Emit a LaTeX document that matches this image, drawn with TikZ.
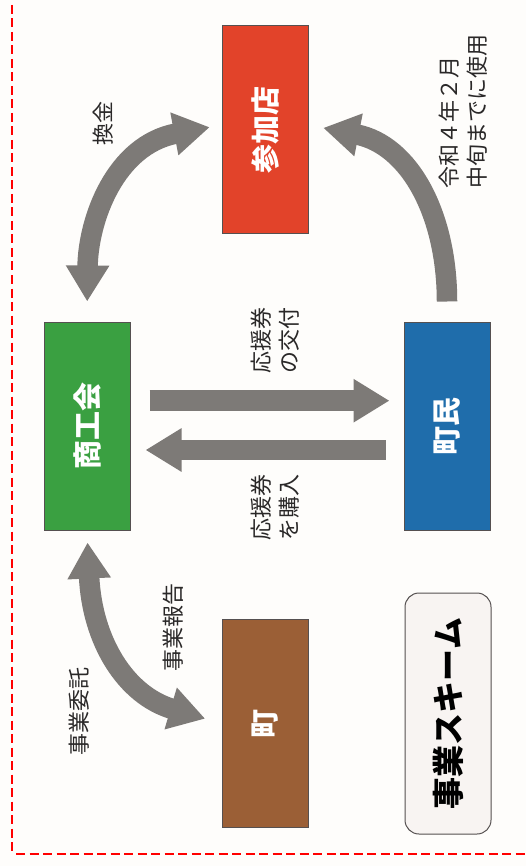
\documentclass[tikz,border=0pt]{standalone}
\usepackage{fontspec}
\setmainfont{Noto Sans CJK JP}
\usetikzlibrary{arrows.meta}
\definecolor{bgc}{HTML}{FEFDFB}
\definecolor{redc}{HTML}{E2432A}
\definecolor{greenc}{HTML}{3AA041}
\definecolor{bluec}{HTML}{1F6DAB}
\definecolor{brownc}{HTML}{9B5F36}
\definecolor{grayc}{HTML}{7D7A77}
\definecolor{edgec}{HTML}{555050}
\definecolor{textc}{HTML}{2A2828}
\definecolor{titlec}{HTML}{F8F4F2}
\tikzset{
  actor/.style={draw=edgec,line width=1pt,minimum width=86pt,minimum height=208pt,inner sep=0pt,text=white,font=\bfseries\fontsize{29}{29}\selectfont},
  lab/.style={rotate=90,inner sep=0pt,text=textc,align=left,font=\fontsize{22}{28}\selectfont},
  flow/.style={draw=grayc,line width=20.5pt,line cap=butt},
  onehead/.style={flow,-{Triangle[length=36pt,width=41pt]}},
  twohead/.style={flow,{Triangle[length=36pt,width=41pt]}-{Triangle[length=36pt,width=41pt]}},
  frame/.style={draw=red,line width=2pt,dash pattern=on 9pt off 4.5pt}
}
\begin{document}
\begin{tikzpicture}[x=1pt,y=-1pt]
\fill[bgc] (0,0) rectangle (526,866);
\useasboundingbox (0,0) rectangle (526,866);
% frame
\coordinate (ftop) at (11.5,5);
\coordinate (fcorner) at (11.5,853);
\coordinate (fstart) at (16,854);
\coordinate (fend) at (526,854);
\draw[frame] (ftop) -- (fcorner);
\draw[frame] (fstart) -- (fend);
% boxes
\node[actor,fill=redc] (san) at (265,130) {\rotatebox{90}{参加店}};
\node[actor,fill=greenc] (sho) at (87,426) {\rotatebox{90}{商工会}};
\node[actor,fill=bluec] (cho) at (447,426) {\rotatebox{90}{町民}};
\node[actor,fill=brownc] (machi) at (265,723.5) {\rotatebox{90}{町}};
\node[draw=edgec,line width=1pt,fill=titlec,rounded corners=14pt,minimum width=86pt,minimum height=241pt,inner sep=0pt,text=black,font=\bfseries\fontsize{32}{32}\selectfont] (title) at (448,713.5) {\rotatebox{90}{事業スキーム}};
% connectors
\draw[onehead,shorten <=19pt,shorten >=14pt] ([yshift=25.3pt]sho.east) -- ([yshift=25.3pt]cho.west);
\draw[onehead,shorten <=18pt,shorten >=15pt] ([yshift=-24pt]cho.west) -- ([yshift=-24pt]sho.east);
\draw[twohead,shorten <=20pt,shorten >=12pt] (sho.north) .. controls (88,220) and (115,145) .. ([yshift=5pt]san.west);
\draw[onehead,shorten <=20pt,shorten >=15pt] (cho.north) .. controls (447,215) and (410,145) .. ([yshift=5pt]san.east);
\draw[twohead,shorten <=12pt,shorten >=17pt] (sho.south) .. controls (92,640) and (125,695) .. (machi.west);
% labels
\node[lab] (l1) at (103,124) {換金};
\node[lab] (l2) at (463,111.5) {令和４年２月\\中旬までに使用};
\node[lab] (l3) at (275,340) {応援券\\の交付};
\node[lab] (l4) at (275,507) {応援券\\を購入};
\node[lab] (l5) at (173,627) {事業報告};
\node[lab] (l6) at (79,711) {事業委託};
\end{tikzpicture}
\end{document}
